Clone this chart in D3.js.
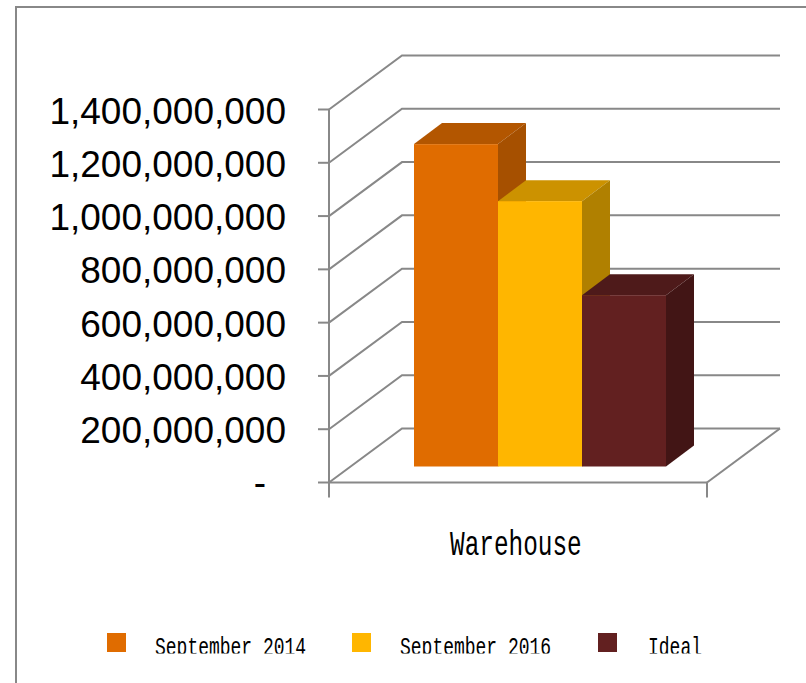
<!DOCTYPE html>
<html>
<head>
<meta charset="utf-8">
<script src="https://cdn.jsdelivr.net/npm/d3@7"></script>
<style>
html, body { margin: 0; padding: 0; background: #fff; overflow: hidden; }
svg { display: block; }
</style>
</head>
<body>
<svg id="chart" width="806" height="683"></svg>
<script>
const categories = ["Warehouse"];
const seriesNames = ["September 2014", "September 2016", "Ideal"];
const seriesValues = [1210000000, 996000000, 643000000];
const frontColors = ["#E06C00", "#FFB600", "#622020"];
const topColors = ["#B35600", "#CC9200", "#4E1A1A"];
const sideColors = ["#A65000", "#B08000", "#421515"];
const tickValues = [0, 200000000, 400000000, 600000000, 800000000, 1000000000, 1200000000, 1400000000];

const svg = d3.select("#chart");
const grey = "#888888";

// Front plane of the chart box and the oblique projection used for depth.
const x = d3.scaleBand().domain(seriesNames).range([329, 707]).paddingInner(0).paddingOuter(0.75);
const y = d3.scaleLinear().domain([0, 1400000000]).range([482.5, 109.5]);
const boxDepth = { dx: 73, dy: -54 };
const barInset = { dx: 22, dy: -16 };
const barDepth = { dx: 28, dy: -21 };

// Outer frame of the chart area.
svg.append("path")
  .attr("d", "M16,683V7H806")
  .attr("fill", "none").attr("stroke", grey).attr("stroke-width", 2);

// Back-wall gridlines and the slanted lines on the side wall.
const grid = svg.append("g").attr("stroke", grey).attr("stroke-width", 2).attr("fill", "none");
tickValues.forEach(v => {
  const y0 = y(v);
  const wallLeft = x.range()[0];
  grid.append("path")
    .attr("d", `M${wallLeft},${y0}L${wallLeft + boxDepth.dx},${y0 + boxDepth.dy}H${x.range()[1] + boxDepth.dx}`);
  grid.append("line")
    .attr("x1", wallLeft - 11).attr("x2", wallLeft)
    .attr("y1", y0).attr("y2", y0);
});

// Vertical axis line, floor front edge, right floor edge and category ticks.
const [xLeft, xRight] = x.range();
grid.append("line").attr("x1", xLeft).attr("x2", xLeft).attr("y1", y(1400000000)).attr("y2", y(0) + 15);
grid.append("line").attr("x1", xLeft).attr("x2", xRight).attr("y1", y(0)).attr("y2", y(0));
grid.append("line").attr("x1", xRight).attr("x2", xRight + boxDepth.dx).attr("y1", y(0)).attr("y2", y(0) + boxDepth.dy);
grid.append("line").attr("x1", xRight).attr("x2", xRight).attr("y1", y(0)).attr("y2", y(0) + 15);

// Value labels; zero is written as a dash.
const labelFormat = d3.format(",");
svg.append("g").selectAll("text").data(tickValues).join("text")
  .attr("x", d => d === 0 ? 266 : 286)
  .attr("y", d => d === 0 ? y(d) + 12 : y(d) + 14)
  .attr("text-anchor", "end")
  .attr("font-family", "Liberation Sans, Arial, sans-serif")
  .attr("font-size", 37)
  .attr("fill", "#000")
  .text(d => d === 0 ? "-" : labelFormat(d));

// Each bar: top and side parallelograms, then the front face.
// Drawn left to right so a later bar covers the side of the one before it.
const barX = d => x(d) + barInset.dx;
const barBase = y(0) + barInset.dy;
const barTop = i => y(seriesValues[i]) + barInset.dy;
seriesNames.forEach((name, i) => {
  const g = svg.append("g");
  const l = barX(name), r = l + x.bandwidth(), t = barTop(i), b = barBase;
  g.append("path")
    .attr("d", `M${l},${t}L${l + barDepth.dx},${t + barDepth.dy}H${r + barDepth.dx}L${r},${t}Z`)
    .attr("fill", topColors[i]);
  g.append("path")
    .attr("d", `M${r},${t}L${r + barDepth.dx},${t + barDepth.dy}V${b + barDepth.dy}L${r},${b}Z`)
    .attr("fill", sideColors[i]);
  g.append("rect")
    .attr("x", l).attr("y", t)
    .attr("width", x.bandwidth()).attr("height", b - t)
    .attr("fill", frontColors[i]);
});

// Monospaced, vertically stretched text for the category and legend.
function tallText(parent, px, py, size, text) {
  return parent.append("text")
    .attr("transform", `translate(${px},${py}) scale(1,1.45)`)
    .attr("font-family", "Liberation Mono, monospace")
    .attr("font-size", size)
    .attr("fill", "#000")
    .text(text);
}
tallText(svg, 450, 555, 24.4, categories[0]);

// Legend row, with the labels cut off along the bottom of their strip.
svg.append("clipPath").attr("id", "legend-clip")
  .append("rect").attr("x", 0).attr("y", 620).attr("width", 806).attr("height", 33.5);
const legend = svg.append("g").attr("clip-path", "url(#legend-clip)");
const legendSwatchX = [107, 352, 598];
const legendTextX = [155, 400, 648];
seriesNames.forEach((name, i) => {
  legend.append("rect")
    .attr("x", legendSwatchX[i]).attr("y", 633).attr("width", 19).attr("height", 19)
    .attr("fill", frontColors[i]);
  tallText(legend, legendTextX[i], 655, 18, name);
});
</script>
</body>
</html>
